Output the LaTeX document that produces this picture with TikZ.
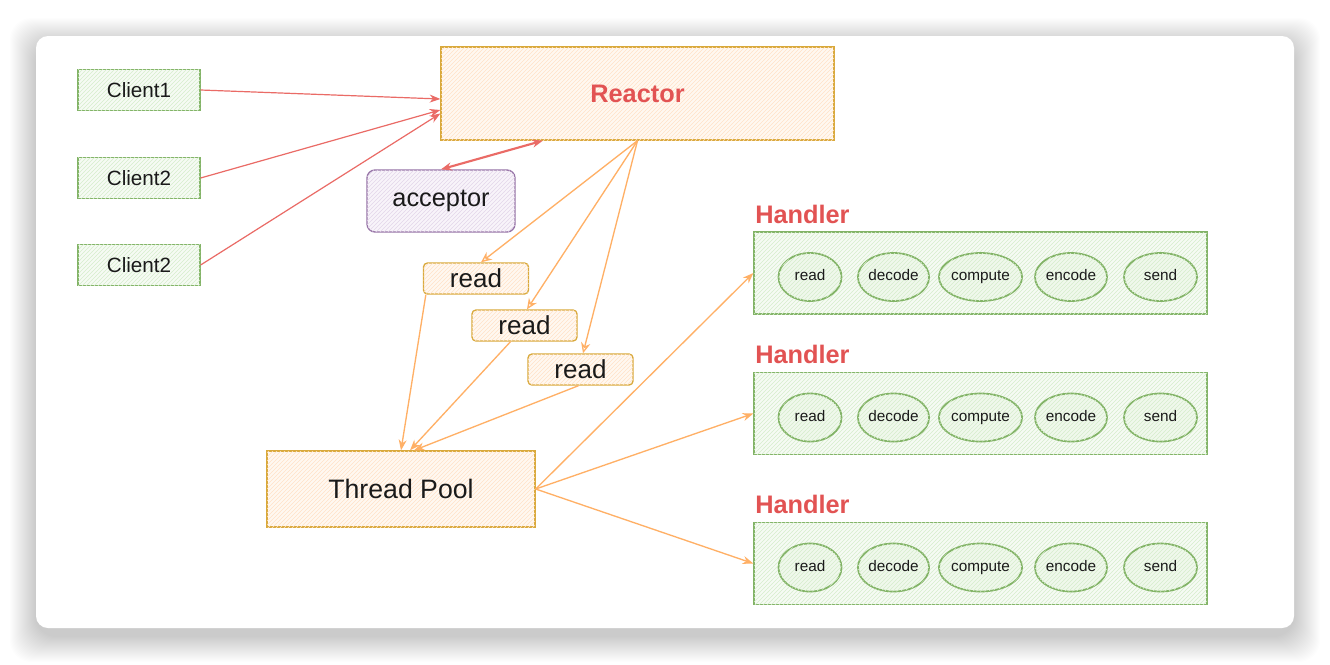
\documentclass[tikz,border=0pt]{standalone}
\usepackage{fontspec}
\setmainfont{Liberation Sans}
\usetikzlibrary{arrows.meta,patterns,calc,shapes.geometric}

\definecolor{grnline}{HTML}{82B366}
\definecolor{grnfill}{HTML}{F6FBF4}
\definecolor{grnhatch}{HTML}{D6EDCC}
\definecolor{orgline}{HTML}{D9A93B}
\definecolor{orgfill}{HTML}{FFF8F1}
\definecolor{orghatch}{HTML}{FFE2C8}
\definecolor{purline}{HTML}{9673A6}
\definecolor{purfill}{HTML}{F8F4FA}
\definecolor{purhatch}{HTML}{E3D6EA}
\definecolor{redline}{HTML}{EA6B66}
\definecolor{redtext}{HTML}{E25353}
\definecolor{orgarrow}{HTML}{FFB066}
\definecolor{txt}{HTML}{1A1A1A}

\tikzset{
  hatch/.style={postaction={pattern=north east lines, pattern color=#1}},
  clientbox/.style={draw=grnline, fill=grnfill, hatch=grnhatch, line width=0.9pt,
    minimum width=91.5pt, minimum height=30.75pt, inner sep=0pt, text=txt,
    font=\fontsize{15.5}{18}\selectfont},
  orgbox/.style={draw=orgline, fill=orgfill, hatch=orghatch, line width=1pt,
    inner sep=0pt, text=txt},
  readbox/.style={orgbox, rounded corners=3pt, minimum width=78.75pt,
    minimum height=23.25pt, font=\fontsize{19.5}{22}\selectfont},
  handlerbox/.style={draw=grnline, fill=grnfill, hatch=grnhatch, line width=1pt,
    minimum width=339.75pt, minimum height=61.5pt, inner sep=0pt},
  stage/.style={ellipse, draw=grnline, fill=grnfill!80!grnhatch, hatch=grnhatch,
    line width=1.3pt, minimum height=36pt, inner sep=0pt, text=txt,
    text height=1.55ex, text depth=0.45ex, font=\fontsize{11.5}{13}\selectfont},
  handlertitle/.style={text=redtext, inner sep=0pt, font=\bfseries\fontsize{19}{22}\selectfont},
  redarrow/.style={draw=redline, line width=0.9pt, -{Stealth[length=8pt,width=6pt]}},
  orgarrow/.style={draw=orgarrow, line width=1pt, -{Stealth[length=8pt,width=6pt]}},
  openarrow/.style={draw=orgarrow, line width=1pt, -{Stealth[open,length=8pt,width=7pt]}}
}

\begin{document}
\begin{tikzpicture}[x=0.75pt, y=-0.75pt]
  \useasboundingbox (0,0) rectangle (1330,664);

  % frame with soft shadow
  \foreach \i in {1,...,26}
    \fill[black, opacity=0.006, rounded corners=16pt] (36-\i,44-\i) rectangle (1294+\i,636+\i);
  \fill[white, rounded corners=9pt] (36,36) rectangle (1294,628);

  % clients
  \node[clientbox] (c1) at (139,90) {Client1};
  \node[clientbox] (c2) at (139,178) {Client2};
  \node[clientbox] (c3) at (139,265) {Client2};

  % reactor and acceptor
  \node[orgbox, minimum width=294.75pt, minimum height=69.75pt, text=redtext,
    font=\bfseries\fontsize{19}{22}\selectfont] (reactor) at (637.5,93.5) {Reactor};
  \node[draw=purline, fill=purfill, hatch=purhatch, line width=1pt, rounded corners=6pt,
    minimum width=111pt, minimum height=46.5pt, inner sep=0pt, text=txt,
    font=\fontsize{19}{22}\selectfont] (acceptor) at (441,201) {acceptor};

  % reads
  \node[readbox] (read1) at (476,278.5) {read};
  \node[readbox] (read2) at (524.5,325.5) {read};
  \node[readbox] (read3) at (580.5,369.5) {read};

  % thread pool
  \node[orgbox, minimum width=201pt, minimum height=57pt,
    font=\fontsize{20}{24}\selectfont] (pool) at (401,489) {Thread Pool};

  % handlers
  \foreach \hy/\hn in {273/1, 413.5/2, 563.5/3} {
    \node[handlertitle, anchor=west] (t\hn) at (755,\hy-59) {Handler};
    \node[handlerbox] (h\hn) at (980.5,\hy) {};
    \foreach \sx/\sw/\sname/\stext in {810/47.25/s1/read, 893.5/45.75/s2/decode,
        980.5/54.75/s3/compute, 1071/54/s4/encode, 1160.5/54.75/s5/send}
      \node[stage, minimum width=\sw pt] (h\hn\sname) at (\sx,\hy+4) {\stext};
    \draw[orgarrow] (pool.east) -- (h\hn.west);
  }

  % client connections
  \draw[redarrow] (c1.east) -- ($(reactor.west)+(0,5.5)$);
  \draw[redarrow] (c2.east) -- ($(reactor.west)+(0,16.5)$);
  \draw[redarrow] (c3.east) -- ($(reactor.west)+(0,20)$);
  \draw[draw=redline, line width=1.6pt, {Stealth[length=8pt,width=6pt]}-{Stealth[length=8pt,width=6pt]}]
    (acceptor.north) -- ($(reactor.south west)!0.26!(reactor.south east)$);

  % dispatch to reads
  \draw[openarrow] (reactor.south) -- ($(read1.north)+(5,0)$);
  \draw[openarrow] (reactor.south) -- ($(read2.north)+(2.5,0)$);
  \draw[openarrow] (reactor.south) -- ($(read3.north)+(2.5,0)$);

  % reads to pool
  \draw[orgarrow] ($(read1.south west)+(3,0)$) -- (pool.north);
  \draw[orgarrow] ($(read2.south)+(-14,0)$) -- ($(pool.north)+(9,0)$);
  \draw[orgarrow] ($(read3.south)+(-2,0)$) -- ($(pool.north)+(13,0)$);
\end{tikzpicture}
\end{document}
